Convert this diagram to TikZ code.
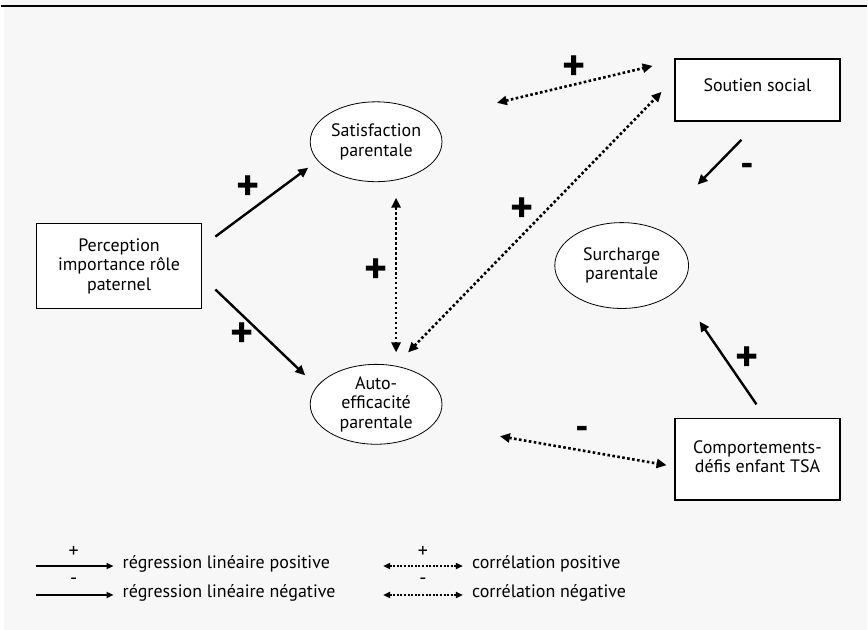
\documentclass[tikz,border=0pt]{standalone}
\usepackage{fontspec}
\setmainfont{PT Sans}
\usetikzlibrary{arrows.meta,shapes.geometric}
\definecolor{bg}{HTML}{F7F7F7}
\begin{document}
\begin{tikzpicture}[x=1pt,y=-1pt,
  reg/.style={line width=2.4pt,-{Triangle[length=10pt,width=9pt]}},
  cor/.style={line width=2.6pt, dash pattern=on 2.6pt off 2.4pt, {Triangle[length=10pt,width=9pt]}-{Triangle[length=10pt,width=9pt]}},
  lreg/.style={line width=2pt,-{Triangle[length=7pt,width=6pt]}},
  lcor/.style={line width=2pt, dash pattern=on 2pt off 1.6pt, {Triangle[length=7pt,width=6pt]}-{Triangle[length=7pt,width=6pt]}},
  box/.style={draw, line width=1.5pt, fill=white, minimum width=165pt, align=center, inner sep=0pt, font=\fontsize{18}{19.5}\selectfont},
  ell/.style={draw, ellipse, line width=0.8pt, fill=white, minimum width=132pt, minimum height=80pt, inner sep=0pt, align=center, font=\fontsize{18}{19.5}\selectfont},
  sign/.style={font=\fontsize{44}{44}\selectfont\bfseries, inner sep=0pt},
  msign/.style={font=\fontsize{38}{38}\selectfont\bfseries, inner sep=0pt},
  lsign/.style={font=\fontsize{20}{20}\selectfont, inner sep=0pt},
  ltext/.style={anchor=west, font=\fontsize{18}{18}\selectfont, inner sep=0pt}
]
\fill[bg] (3,0) rectangle (868,631);
\draw[line width=1.5pt] (0,6) -- (868,6);

\node[box, minimum height=85pt] (perc) at (118.5,266.5) {Perception\\importance rôle\\paternel};
\node[ell] (sat) at (376,142) {Satisfaction\\parentale};
\node[ell] (auto) at (376,405) {Auto-\\efficacité\\parentale};
\node[ell, minimum width=134pt, minimum height=86pt] (sur) at (622,266) {Surcharge\\parentale};
\node[box, minimum height=62pt] (sout) at (758,90) {\raisebox{10pt}{Soutien social}};
\node[box, minimum height=82pt] (comp) at (758,460) {\raisebox{4pt}{\begin{tabular}{@{}c@{}}Comportements-\\défis enfant TSA\end{tabular}}};

\coordinate (ps1) at (215,237); \coordinate (ps2) at (308,168);
\coordinate (pa1) at (215,290); \coordinate (pa2) at (305,376);
\coordinate (sa1) at (396,198); \coordinate (sa2) at (396,353);
\coordinate (ss1) at (497,103); \coordinate (ss2) at (653,66);
\coordinate (as1) at (408,353); \coordinate (as2) at (662,92);
\coordinate (ac1) at (500,437); \coordinate (ac2) at (667,466);
\coordinate (su1) at (742,140); \coordinate (su2) at (698,185);
\coordinate (cu1) at (757,405); \coordinate (cu2) at (700,322);

\draw[reg] (ps1) -- (ps2);
\draw[reg] (pa1) -- (pa2);
\draw[cor] (sa1) -- (sa2);
\draw[cor] (ss1) -- (ss2);
\draw[cor] (as1) -- (as2);
\draw[cor] (ac1) -- (ac2);
\draw[reg] (su1) -- (su2);
\draw[reg] (cu1) -- (cu2);

\node[sign] (s1) at (248,188) {+};
\node[sign] (s2) at (242,336) {+};
\node[sign] (s3) at (376,272) {+};
\node[sign] (s4) at (574,68) {+};
\node[sign] (s5) at (522,210) {+};
\node[msign] (s6) at (748,170) {-};
\node[msign] (s7) at (583,434) {-};
\node[sign] (s8) at (748,360) {+};

% legend
\coordinate (l1a) at (35,567); \coordinate (l1b) at (113,567);
\coordinate (l2a) at (35,596); \coordinate (l2b) at (113,596);
\coordinate (l3a) at (383,567); \coordinate (l3b) at (463,567);
\coordinate (l4a) at (383,596); \coordinate (l4b) at (463,596);
\draw[lreg] (l1a) -- (l1b);
\draw[lreg] (l2a) -- (l2b);
\draw[lcor] (l3a) -- (l3b);
\draw[lcor] (l4a) -- (l4b);
\node[lsign] (ls1) at (73,553) {+};
\node[lsign] (ls2) at (73,582) {-};
\node[lsign] (ls3) at (423,553) {+};
\node[lsign] (ls4) at (423,582) {-};
\node[ltext] (lt1) at (122,565) {régression linéaire positive};
\node[ltext] (lt2) at (122,594) {régression linéaire négative};
\node[ltext] (lt3) at (472,565) {corrélation positive};
\node[ltext] (lt4) at (472,594) {corrélation négative};
\end{tikzpicture}
\end{document}
